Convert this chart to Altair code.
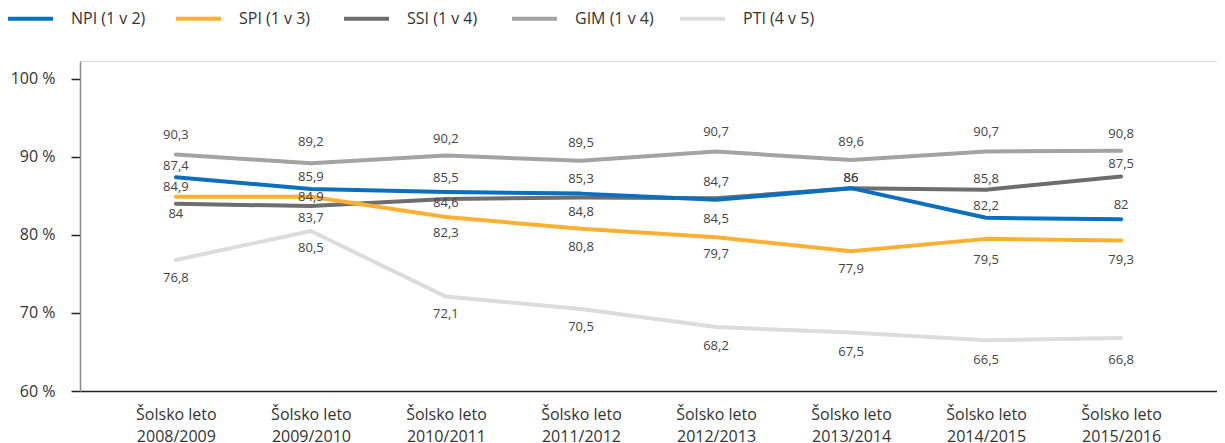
import altair as alt
import pandas as pd

years = ["2008/2009", "2009/2010", "2010/2011", "2011/2012",
         "2012/2013", "2013/2014", "2014/2015", "2015/2016"]
series_names = ["NPI (1 v 2)", "SPI (1 v 3)", "SSI (1 v 4)", "GIM (1 v 4)", "PTI (4 v 5)"]

npi = [87.4, 85.9, 85.5, 85.3, 84.5, 86, 82.2, 82]
spi = [84.9, 84.9, 82.3, 80.8, 79.7, 77.9, 79.5, 79.3]
ssi = [84, 83.7, 84.6, 84.8, 84.7, 86, 85.8, 87.5]
gim = [90.3, 89.2, 90.2, 89.5, 90.7, 89.6, 90.7, 90.8]
pti = [76.8, 80.5, 72.1, 70.5, 68.2, 67.5, 66.5, 66.8]

colors = ["#0a6fbf", "#fbb034", "#6d6d6d", "#a3a3a3", "#dcdcdc"]

# label vertical offsets in pixels (style, not data)
label_dy = {
    "NPI (1 v 2)": [-11, -12, -14, -15, 19, -10, -12, -14],
    "SPI (1 v 3)": [-10, 0, 16, 18, 17, 18, 21, 20],
    "SSI (1 v 4)": [10, 12, 4, 14, -16, -10, -11, -12],
    "GIM (1 v 4)": [-20, -21, -16, -18, -19, -18, -19, -17],
    "PTI (4 v 5)": [18, 17, 17, 18, 19, 20, 20, 22],
}

values_by_series = dict(zip(series_names, [npi, spi, ssi, gim, pti]))

rows = []
# draw order: light lines first, NPI on top
for name in reversed(series_names):
    for i, y in enumerate(years):
        rows.append({"year": y, "series": name, "value": values_by_series[name][i],
                     "dy": label_dy[name][i]})
df = pd.DataFrame(rows)

FONT = "Open Sans"

x_enc = alt.X("year:N", sort=years, title=None,
              scale=alt.Scale(type="point", padding=0.71),
              axis=alt.Axis(labelExpr="['Šolsko leto', datum.label]", labelAngle=0,
                            labelFontSize=16, labelColor="#333333", labelFont=FONT,
                            labelLineHeight=22, labelPadding=15, ticks=False,
                            domainColor="#222222", domainWidth=1.5, grid=False))
y_enc = alt.Y("value:Q", title=None,
              scale=alt.Scale(domain=[60, 102.3], nice=False, zero=False),
              axis=alt.Axis(values=[60, 70, 80, 90, 100], labelExpr="datum.value + ' %'",
                            labelFontSize=16, labelColor="#333333", labelFont=FONT,
                            tickSize=9, tickColor="#222222", tickWidth=1.5,
                            labelPadding=16, domainColor="#8a8a8a", domainWidth=1.5,
                            grid=False))

lines = alt.Chart(df).mark_line(strokeWidth=4, strokeCap="round", strokeJoin="round").encode(
    x=x_enc,
    y=y_enc,
    color=alt.Color("series:N", sort=series_names,
                    scale=alt.Scale(domain=series_names, range=colors),
                    legend=alt.Legend(title=None, orient="none", legendX=-74, legendY=-67,
                                      direction="horizontal", columns=5, gridAlign="all",
                                      columnPadding=18, symbolType="stroke",
                                      symbolSize=2025, symbolStrokeWidth=4,
                                      labelOffset=16, labelFontSize=16, labelFont=FONT,
                                      labelColor="#333333")),
    order=alt.Order("year:N"),
)

labels = alt.Chart(df).transform_calculate(
    label="replace(toString(datum.value), '.', ',')"
).mark_text(fontSize=13, font=FONT, color="#444444", baseline="middle", align="center",
            dy=alt.expr("datum.dy")).encode(
    x=alt.X("year:N", sort=years),
    y=alt.Y("value:Q"),
    text="label:N",
)

chart = alt.layer(lines, labels).properties(
    width=1137, height=330,
    autosize=alt.AutoSizeParams(type="none"),
    padding={"left": 72, "top": 53, "right": 0, "bottom": 52},
).configure_view(stroke=None).configure(font=FONT)

chart.save("out.html", embed_options={"renderer": "svg", "actions": False})
